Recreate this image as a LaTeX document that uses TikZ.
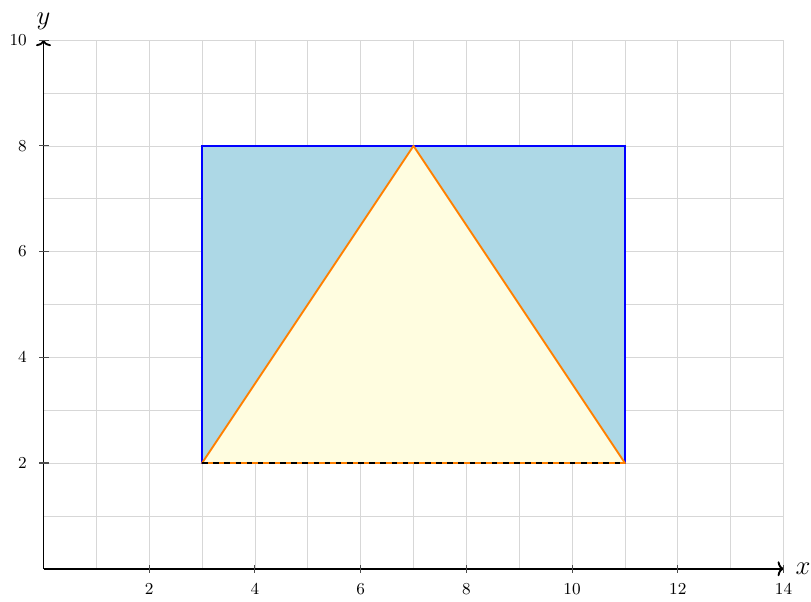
\documentclass[tikz,border=0pt]{standalone}
\usepackage{xcolor}
\usetikzlibrary{arrows.meta}
\definecolor{lblue}{RGB}{173,216,230}
\definecolor{lyellow}{RGB}{255,253,224}
\definecolor{gridc}{RGB}{215,215,215}
\begin{document}
\begin{tikzpicture}[x=1cm,y=1cm,
  gridline/.style={draw=gridc,line width=0.4pt},
  axisline/.style={-{To[length=3.2pt,width=8pt]},line width=1pt,black},
  tickmark/.style={draw=black!70,line width=0.6pt},
  ticklab/.style={font=\fontsize{9}{10}\selectfont,inner sep=0pt},
  rectbox/.style={fill=lblue,draw=blue,line width=1pt},
  triangle/.style={fill=lyellow,draw=orange,line width=1pt,line join=round},
  baseline/.style={dashed,line width=1pt,black}]
\useasboundingbox (-0.823,-0.611) rectangle (14.52,10.76);
\draw[gridline] (0,0) grid (14,10);
\draw[rectbox] (3,2) rectangle (11,8);
\coordinate (A) at (3,2);
\coordinate (B) at (7,8);
\coordinate (C) at (11,2);
\draw[triangle] (A) -- (B) -- (C) -- cycle;
\draw[baseline] (A) -- (C);
\coordinate (O) at (0,0);
\coordinate (X) at (14,0);
\coordinate (Y) at (0,10);
\draw[axisline] (O) -- (X);
\draw[axisline] (O) -- (Y);
\node[anchor=west,font=\Large,inner sep=2pt] (xl) at (14.15,0) {$x$};
\node[anchor=south,font=\Large,inner sep=0pt] (yl) at (0,10.2) {$y$};
\foreach \i in {2,4,...,14} {
  \draw[tickmark] (\i,-0.08) -- (\i,0.08);
  \node[ticklab] (xt\i) at (\i,-0.38) {\i};
}
\foreach \j in {2,4,...,10} {
  \draw[tickmark] (-0.08,\j) -- (0.1,\j);
  \node[ticklab,anchor=east] (yt\j) at (-0.31,\j) {\j};
}
\end{tikzpicture}
\end{document}
